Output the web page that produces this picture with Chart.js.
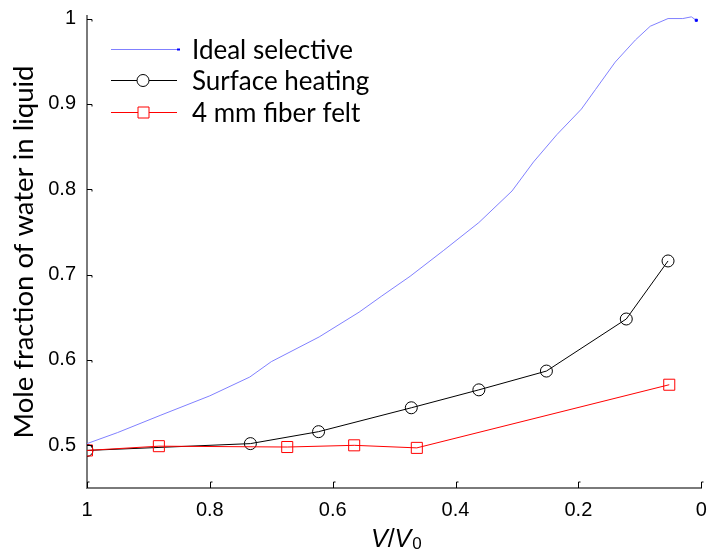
<!DOCTYPE html>
<html>
<head>
<meta charset="utf-8">
<script src="https://cdn.jsdelivr.net/npm/chart.js@4/dist/chart.umd.min.js"></script>
<style>
  html, body { margin: 0; padding: 0; background: #fff; }
  #wrap { width: 710px; height: 553px; }
</style>
</head>
<body>
<div id="wrap"><canvas id="model01"></canvas></div>
<script>
// V/V0 values and mole fraction of water for each run
const idealV = [1, 0.95, 0.881, 0.8, 0.735, 0.7, 0.622, 0.557, 0.52, 0.474, 0.42, 0.362, 0.308, 0.273, 0.235, 0.195, 0.172, 0.14, 0.107, 0.083, 0.054, 0.03, 0.016, 0.008];
const idealX = [0.502, 0.515, 0.535, 0.558, 0.58, 0.598, 0.627, 0.656, 0.675, 0.698, 0.728, 0.761, 0.798, 0.832, 0.864, 0.894, 0.917, 0.949, 0.975, 0.991, 1.0, 1.0, 1.002, 0.998];

const surfaceV = [1, 0.734, 0.623, 0.472, 0.362, 0.252, 0.122, 0.054];
const surfaceX = [0.494, 0.502, 0.516, 0.544, 0.565, 0.587, 0.648, 0.716];

const feltV = [1, 0.883, 0.674, 0.565, 0.463, 0.052];
const feltX = [0.494, 0.499, 0.498, 0.5, 0.497, 0.571];

const xTicks = [1, 0.8, 0.6, 0.4, 0.2, 0];
const yTicks = [0.5, 0.6, 0.7, 0.8, 0.9, 1];

const seriesNames = ['Ideal selective', 'Surface heating', '4 mm fiber felt'];

const ctx1 = document.getElementById('model01');

const pts = (xs, ys) => xs.map((v, i) => ({ x: v, y: ys[i] }));
const fmt = v => String(Number(v.toFixed(2)));

// inward tick marks, legend box and the V/V0 label with subscript
const extras = {
  id: 'extras',
  afterDraw(chart) {
    const c = chart.ctx;
    const xs = chart.scales.x, ys = chart.scales.y;
    const area = chart.chartArea;
    c.save();
    c.strokeStyle = '#000';
    c.lineWidth = 1;
    xTicks.forEach(v => {
      const px = Math.round(xs.getPixelForValue(v)) + 0.5;
      c.beginPath();
      c.moveTo(px, area.bottom);
      c.lineTo(px, area.bottom - 6);
      c.lineTo(px + 2, area.bottom - 6);
      c.stroke();
    });
    yTicks.forEach(v => {
      const py = Math.round(ys.getPixelForValue(v)) + 0.5;
      c.beginPath();
      c.moveTo(area.left, py);
      c.lineTo(area.left + 5, py);
      c.lineTo(area.left + 5, py + 2);
      c.stroke();
    });

    // legend
    const rows = [49, 80, 112];
    c.font = '26px Lato';
    c.textBaseline = 'middle';
    chart.data.datasets.forEach((ds, i) => {
      const y = rows[i] + 0.5;
      c.strokeStyle = ds.borderColor;
      c.lineWidth = 1;
      c.beginPath();
      c.moveTo(111, y);
      c.lineTo(177, y);
      c.stroke();
      if (i === 0) {
        c.fillStyle = '#0000ff';
        c.fillRect(177, y - 1, 3, 2);
      } else {
        c.strokeStyle = ds.pointBorderColor;
        c.fillStyle = '#fff';
        c.beginPath();
        if (ds.pointStyle === 'circle') {
          c.arc(143, y, 6, 0, Math.PI * 2);
        } else {
          c.rect(138, y - 5.5, 11, 11);
        }
        c.fill();
        c.stroke();
      }
      c.fillStyle = '#000';
      c.fillText(seriesNames[i], 192, y + 1);
    });

    // x axis title V/V0
    c.fillStyle = '#000';
    c.textBaseline = 'alphabetic';
    c.font = 'italic 25px "Liberation Sans"';
    let x = 371;
    const base = 547;
    c.fillText('V', x, base);
    x += c.measureText('V').width;
    c.font = '25px "Liberation Sans"';
    c.fillText('/', x, base);
    x += c.measureText('/').width;
    c.font = 'italic 25px "Liberation Sans"';
    c.fillText('V', x, base);
    x += c.measureText('V').width;
    c.font = '17px "Liberation Sans"';
    c.fillText('0', x + 1, base + 2);
    c.restore();
  }
};

new Chart(ctx1, {
  type: 'line',
  data: {
    datasets: [
      {
        label: seriesNames[0],
        data: pts(idealV, idealX),
        borderColor: '#8080ff',
        borderWidth: 1,
        pointRadius: idealV.map((v, i) => i === idealV.length - 1 ? 1.5 : 0),
        pointStyle: 'rect',
        pointBackgroundColor: '#0000ff',
        pointBorderColor: '#0000ff',
        tension: 0,
        order: 3
      },
      {
        label: seriesNames[1],
        data: pts(surfaceV, surfaceX),
        borderColor: '#000000',
        borderWidth: 1,
        pointStyle: 'circle',
        pointRadius: 6,
        pointBorderWidth: 1,
        pointBorderColor: '#000000',
        pointBackgroundColor: 'rgba(0,0,0,0)',
        tension: 0,
        order: 2
      },
      {
        label: seriesNames[2],
        data: pts(feltV, feltX),
        borderColor: '#ff0000',
        borderWidth: 1,
        pointStyle: 'rect',
        pointRadius: 7.8,
        pointBorderWidth: 1,
        pointBorderColor: '#ff0000',
        pointBackgroundColor: 'rgba(0,0,0,0)',
        tension: 0,
        order: 1
      }
    ]
  },
  options: {
    responsive: true,
    maintainAspectRatio: false,
    animation: false,
    layout: { padding: { top: 16, right: 7, left: 0, bottom: 0 } },
    plugins: {
      legend: { display: false },
      tooltip: { enabled: false }
    },
    scales: {
      x: {
        type: 'linear',
        reverse: true,
        min: 0,
        max: 1,
        afterBuildTicks: s => { s.ticks = xTicks.map(v => ({ value: v })); },
        afterFit: s => { s.height = 65; s.paddingLeft = 0; s.paddingRight = 0; },
        grid: { drawOnChartArea: false, drawTicks: false },
        border: { color: '#7a7a7a', width: 2 },
        ticks: {
          padding: 10,
          color: '#000',
          callback: fmt,
          font: { family: 'Liberation Sans', size: 20 },
          maxRotation: 0
        }
      },
      y: {
        type: 'linear',
        min: 0.45,
        max: 1.003,
        afterBuildTicks: s => { s.ticks = yTicks.map(v => ({ value: v })); },
        afterFit: s => { s.width = 87; s.paddingTop = 0; s.paddingBottom = 0; },
        grid: { drawOnChartArea: false, drawTicks: false },
        border: { color: '#7a7a7a', width: 2 },
        ticks: {
          padding: 11,
          color: '#000',
          callback: fmt,
          font: { family: 'Liberation Sans', size: 20 }
        },
        title: {
          display: true,
          text: 'Mole fraction of water in liquid',
          color: '#000',
          font: { family: 'Lato', size: 27.5 },
          padding: { top: 8, bottom: 0 }
        }
      }
    }
  },
  plugins: [extras]
});
</script>
</body>
</html>
